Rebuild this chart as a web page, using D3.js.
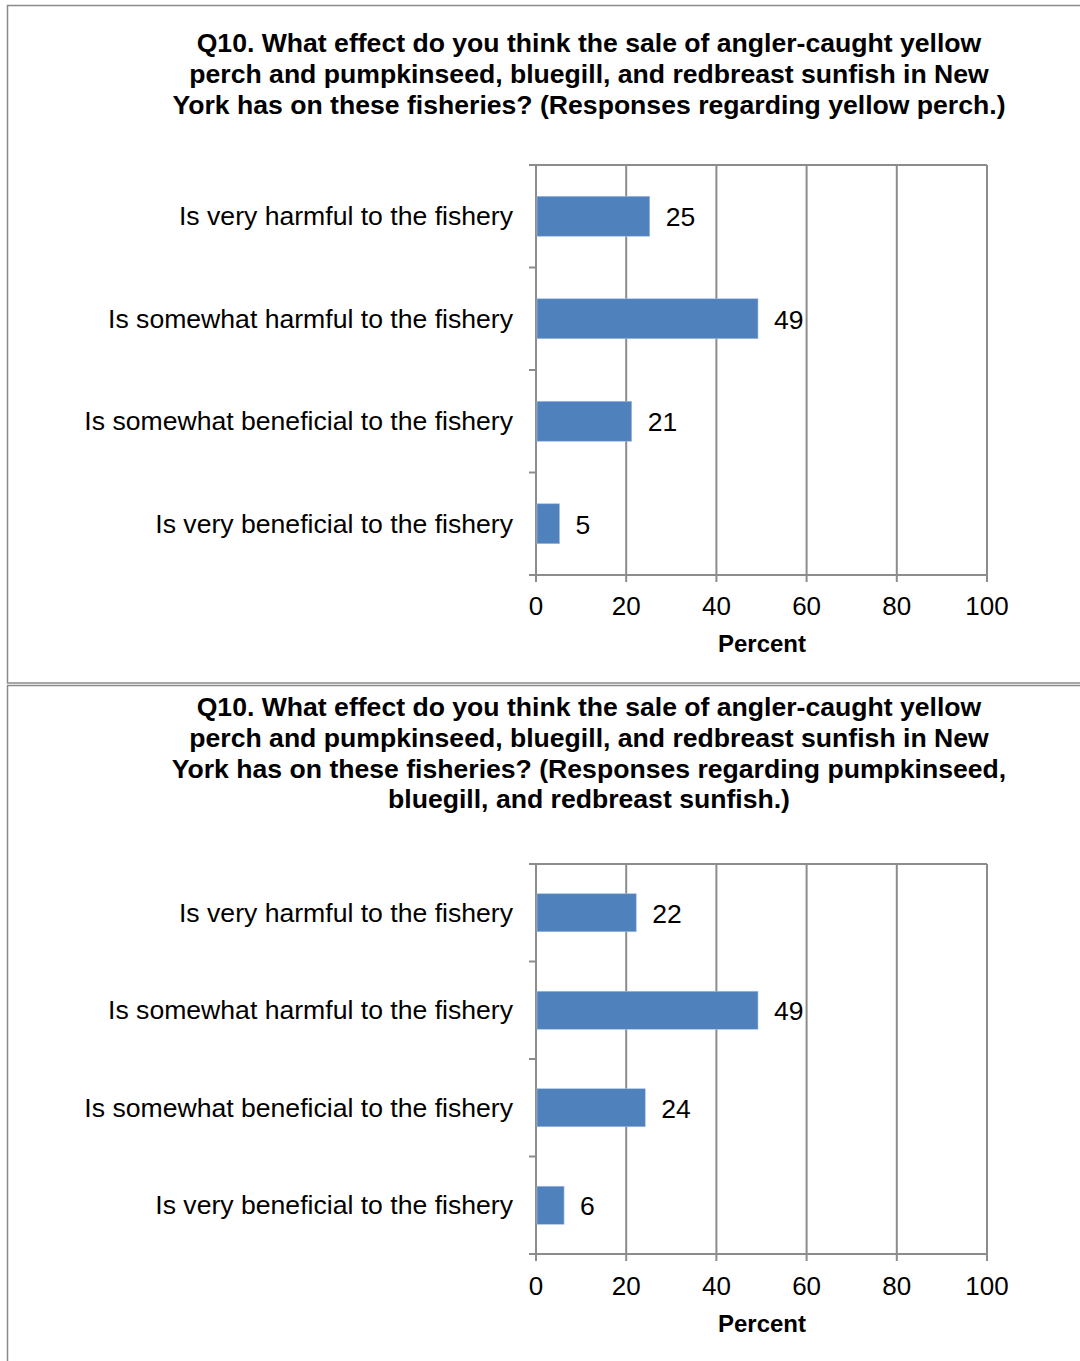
<!DOCTYPE html>
<html><head><meta charset="utf-8">
<script src="https://cdn.jsdelivr.net/npm/d3@7"></script>
<style>body{margin:0;background:#fff}svg{display:block}</style>
</head><body><svg id="c" width="1080" height="1361"></svg>
<script>
const categories = ["Is very harmful to the fishery","Is somewhat harmful to the fishery","Is somewhat beneficial to the fishery","Is very beneficial to the fishery"];
const perchValues = [25, 49, 21, 5];
const sunfishValues = [22, 49, 24, 6];
const xTicks = [0, 20, 40, 60, 80, 100];
const title1 = ["Q10. What effect do you think the sale of angler-caught yellow","perch and pumpkinseed, bluegill, and redbreast sunfish in New","York has on these fisheries? (Responses regarding yellow perch.)"];
const title2 = ["Q10. What effect do you think the sale of angler-caught yellow","perch and pumpkinseed, bluegill, and redbreast sunfish in New","York has on these fisheries? (Responses regarding pumpkinseed,","bluegill, and redbreast sunfish.)"];
const axisTitle = "Percent";

const svg = d3.select("#c");
const font = "'Liberation Sans', Arial, sans-serif";
const grid = "#8c8c8c";

svg.append("rect").attr("x",7.5).attr("y",5.5).attr("width",1100).attr("height",677.5).attr("fill","none").attr("stroke","#8a8a8a").attr("stroke-width",1.5);
svg.append("rect").attr("x",7.5).attr("y",685.5).attr("width",1100).attr("height",700).attr("fill","none").attr("stroke","#8a8a8a").attr("stroke-width",1.5);

function panel(values, titleLines, titleY, top, bottom, tickY, axisTitleY){
  const g = svg.append("g");
  g.selectAll("text.t").data(titleLines).join("text")
    .attr("x",589).attr("y",(d,i)=>titleY + i*30.8).attr("text-anchor","middle")
    .attr("dominant-baseline","central")
    .attr("font-family",font).attr("font-weight","bold").attr("font-size",26.6).attr("fill","#000").text(d=>d);
  const x = d3.scaleLinear().domain([0,100]).range([536,987]);
  const y = d3.scaleBand().domain(categories).range([top,bottom]).paddingInner(0.61).paddingOuter(0.305);
  const yb = d3.scaleBand().domain(categories).range([top,bottom]);
  g.selectAll("line.g").data(xTicks.slice(1)).join("line")
    .attr("x1",d=>x(d)).attr("x2",d=>x(d)).attr("y1",top).attr("y2",bottom+7)
    .attr("stroke",grid).attr("stroke-width",2);
  g.append("line").attr("x1",529).attr("x2",x(100)).attr("y1",top).attr("y2",top).attr("stroke",grid).attr("stroke-width",2);
  g.append("line").attr("x1",536).attr("x2",536).attr("y1",top).attr("y2",bottom+7).attr("stroke",grid).attr("stroke-width",2);
  const bounds = categories.map(c=>yb(c)).concat([bottom]);
  g.selectAll("line.ct").data(bounds).join("line")
    .attr("x1",529).attr("x2",536).attr("y1",d=>d).attr("y2",d=>d).attr("stroke",grid).attr("stroke-width",2);
  g.append("line").attr("x1",529).attr("x2",x(100)).attr("y1",bottom).attr("y2",bottom).attr("stroke",grid).attr("stroke-width",2);
  g.selectAll("rect.b").data(values).join("rect")
    .attr("x",x(0)+1).attr("y",(d,i)=>y(categories[i]))
    .attr("width",d=>x(d)-x(0)).attr("height",y.bandwidth())
    .attr("fill","#4f81bd").attr("stroke","#a8c0df").attr("stroke-width",0.6);
  g.selectAll("text.v").data(values).join("text")
    .attr("x",d=>x(d)+17).attr("y",(d,i)=>y(categories[i])+y.bandwidth()/2+1)
    .attr("dominant-baseline","central").attr("font-family",font).attr("font-size",26.5).attr("fill","#000").text(d=>d);
  g.selectAll("text.c").data(categories).join("text")
    .attr("x",513).attr("y",d=>yb(d)+yb.bandwidth()/2)
    .attr("text-anchor","end").attr("dominant-baseline","central")
    .attr("font-family",font).attr("font-size",26.6).attr("fill","#000").text(d=>d);
  g.selectAll("text.xt").data(xTicks).join("text")
    .attr("x",d=>x(d)).attr("y",tickY).attr("text-anchor","middle").attr("dominant-baseline","central")
    .attr("font-family",font).attr("font-size",26).attr("fill","#000").text(d=>d);
  g.append("text").attr("x",762).attr("y",axisTitleY).attr("text-anchor","middle").attr("dominant-baseline","central")
    .attr("font-family",font).attr("font-weight","bold").attr("font-size",24).attr("fill","#000").text(axisTitle);
}
panel(perchValues, title1, 43, 165, 575, 606, 643);
panel(sunfishValues, title2, 707, 864, 1254, 1286, 1323);
</script></body></html>
